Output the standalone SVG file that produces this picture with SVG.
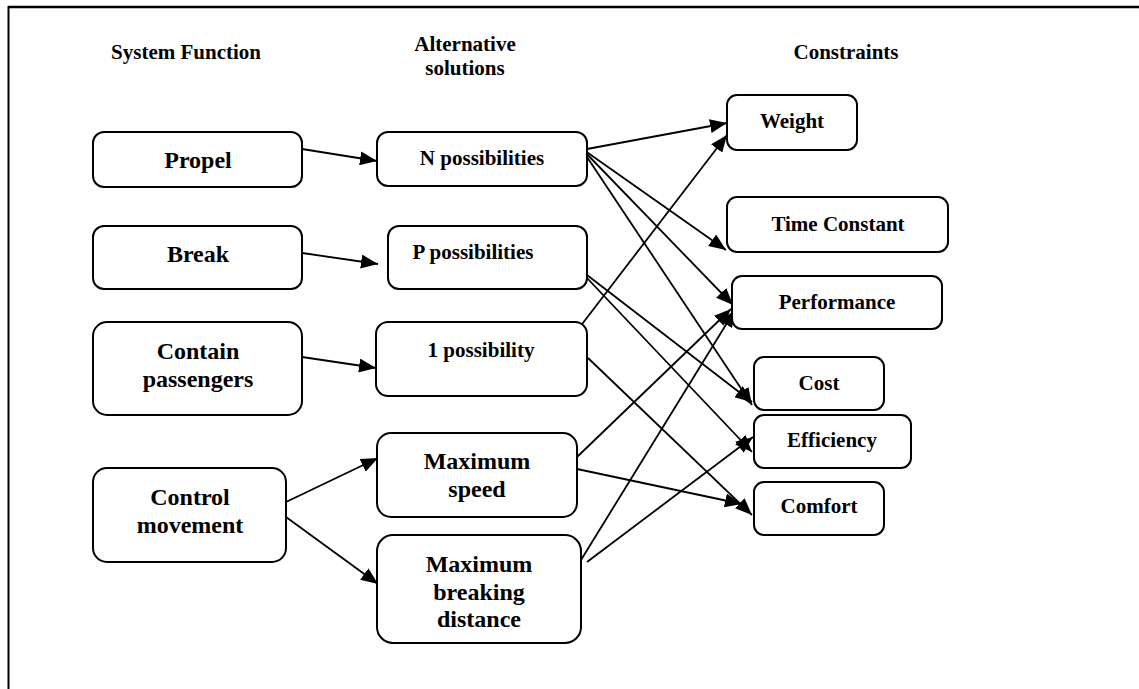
<svg xmlns="http://www.w3.org/2000/svg" width="1139" height="689" viewBox="0 0 1139 689">
<style>
.box{fill:#fff;stroke:#000;stroke-width:2}
.t{font-family:"Liberation Serif","Times New Roman",serif;font-weight:bold;fill:#000;text-anchor:middle}
.s21{font-size:21px}
.s24{font-size:24px}
.c{stroke:#000;stroke-width:1.8;fill:none;marker-end:url(#ah)}
</style>
<defs>
<marker id="ah" markerUnits="userSpaceOnUse" markerWidth="18" markerHeight="14" refX="17" refY="7" orient="auto">
<path d="M0,0 L17,7 L0,14 Z" fill="#000"/>
</marker>
</defs>
<rect width="1139" height="689" fill="#fff"/>
<g id="frame">
<line x1="8.5" y1="7" x2="1139" y2="7" stroke="#000" stroke-width="2.5"/>
<line x1="8.5" y1="6" x2="8.5" y2="689" stroke="#000" stroke-width="2"/>
</g>
<g id="headers">
<text class="t s21" x="186" y="59">System Function</text>
<text class="t s21" x="465" y="51">Alternative</text>
<text class="t s21" x="465" y="75">solutions</text>
<text class="t s21" x="846" y="59">Constraints</text>
</g>
<g id="connectors">
<line class="c" x1="302" y1="149" x2="377" y2="161"/>
<line class="c" x1="302" y1="253" x2="378" y2="264"/>
<line class="c" x1="302" y1="357" x2="376" y2="368"/>
<line class="c" x1="286" y1="502" x2="378" y2="458"/>
<line class="c" x1="286" y1="517" x2="378" y2="584"/>
<line class="c" x1="587" y1="149" x2="727" y2="123"/>
<line class="c" x1="581" y1="148" x2="726" y2="250"/>
<line class="c" x1="581" y1="148" x2="733" y2="305"/>
<line class="c" x1="581" y1="148" x2="752" y2="405"/>
<line class="c" x1="587" y1="275" x2="752" y2="402"/>
<line class="c" x1="587" y1="278" x2="752" y2="452"/>
<line class="c" x1="576" y1="332" x2="727" y2="135"/>
<line class="c" x1="588" y1="358" x2="752" y2="515"/>
<line class="c" x1="577" y1="457" x2="731" y2="309"/>
<line class="c" x1="577" y1="469" x2="742" y2="504"/>
<line class="c" x1="581" y1="560" x2="735" y2="310"/>
<line class="c" x1="587" y1="562" x2="753" y2="437"/>
</g>
<g id="propel"><rect class="box" x="93" y="132" width="209" height="55" rx="11"/><text class="t s24" x="198" y="168">Propel</text></g>
<g id="break"><rect class="box" x="93" y="226" width="209" height="63" rx="11"/><text class="t s24" x="198" y="262">Break</text></g>
<g id="contain"><rect class="box" x="93" y="322" width="209" height="93" rx="14"/><text class="t s24" x="198" y="359">Contain</text><text class="t s24" x="198" y="387">passengers</text></g>
<g id="control"><rect class="box" x="93" y="468" width="193" height="94" rx="14"/><text class="t s24" x="190" y="505">Control</text><text class="t s24" x="190" y="533">movement</text></g>
<g id="n-poss"><rect class="box" x="377" y="132" width="210" height="54" rx="11"/><text class="t s21" x="482" y="165">N possibilities</text></g>
<g id="p-poss"><rect class="box" x="388" y="226" width="199" height="63" rx="11"/><text class="t s21" x="473" y="259">P possibilities</text></g>
<g id="one-poss"><rect class="box" x="376" y="322" width="211" height="74" rx="12"/><text class="t s21" x="481" y="357">1 possibility</text></g>
<g id="max-speed"><rect class="box" x="377" y="433" width="200" height="84" rx="14"/><text class="t s24" x="477" y="469">Maximum</text><text class="t s24" x="477" y="497">speed</text></g>
<g id="max-break"><rect class="box" x="377" y="535" width="204" height="108" rx="16"/><text class="t s24" x="479" y="572">Maximum</text><text class="t s24" x="479" y="600">breaking</text><text class="t s24" x="479" y="627">distance</text></g>
<g id="weight"><rect class="box" x="727" y="95" width="130" height="55" rx="10"/><text class="t s21" x="792" y="128">Weight</text></g>
<g id="time-constant"><rect class="box" x="727" y="197" width="221" height="55" rx="10"/><text class="t s21" x="838" y="231">Time Constant</text></g>
<g id="performance"><rect class="box" x="732" y="276" width="210" height="53" rx="10"/><text class="t s21" x="837" y="309">Performance</text></g>
<g id="cost"><rect class="box" x="754" y="357" width="130" height="53" rx="10"/><text class="t s21" x="819" y="390">Cost</text></g>
<g id="efficiency"><rect class="box" x="754" y="415" width="157" height="53" rx="10"/><text class="t s21" x="832" y="447">Efficiency</text></g>
<g id="comfort"><rect class="box" x="754" y="482" width="130" height="53" rx="10"/><text class="t s21" x="819" y="513">Comfort</text></g>
</svg>
